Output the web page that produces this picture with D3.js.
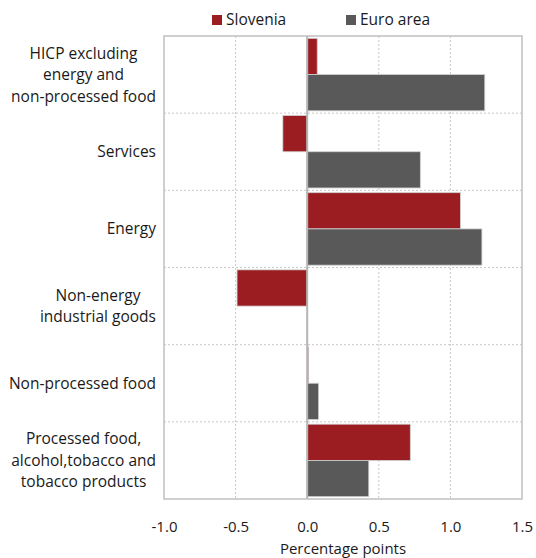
<!DOCTYPE html>
<html>
<head>
<meta charset="utf-8">
<script src="https://cdn.jsdelivr.net/npm/d3@7"></script>
<style>
  body { margin: 0; background: #fff; }
  text { font-family: "Open Sans", sans-serif; fill: #1a1a1a; }
</style>
</head>
<body>
<div id="chart"></div>
<script>
// categories, top to bottom
var categories = [
  ["HICP excluding", "energy and", "non-processed food"],
  ["Services"],
  ["Energy"],
  ["Non-energy", "industrial goods"],
  ["Non-processed food"],
  ["Processed food,", "alcohol,tobacco and", "tobacco products"]
];
var seriesNames = ["Slovenia", "Euro area"];
var slovenia = [0.07, -0.17, 1.07, -0.49, 0.01, 0.72];
var euroArea = [1.24, 0.79, 1.22, 0.0, 0.08, 0.43];
var xTicks = [-1.0, -0.5, 0.0, 0.5, 1.0, 1.5];
var colors = ["#9b1c21", "#595959"];

var svgWidth = 536;
var svgHeight = 558;
var margin = { top: 36, right: 14, bottom: 59, left: 164 };
var width = svgWidth - margin.left - margin.right;
var height = svgHeight - margin.top - margin.bottom;

var svg = d3.select("#chart")
  .append("svg")
  .attr("width", svgWidth)
  .attr("height", svgHeight);

var chartGroup = svg.append("g")
  .attr("transform", `translate(${margin.left}, ${margin.top})`);

var data = categories.map(function(c, i) {
  return { key: i, lines: c, values: [slovenia[i], euroArea[i]] };
});

var x = d3.scaleLinear().domain([-1.0, 1.5]).range([0, width]);
var y = d3.scaleBand().domain(d3.range(categories.length)).range([0, height]).padding(0);
var ySub = d3.scaleBand().domain([0, 1]).range([0, y.bandwidth()]).paddingOuter(0.065).paddingInner(0);

// vertical dotted gridlines
chartGroup.selectAll(".vgrid")
  .data(xTicks.slice(1, -1))
  .enter()
  .append("line")
  .attr("x1", d => x(d))
  .attr("x2", d => x(d))
  .attr("y1", 0)
  .attr("y2", height)
  .attr("stroke", "#c8c8c8")
  .attr("stroke-width", 1)
  .attr("stroke-dasharray", "2,2");

// horizontal dotted separators between categories
chartGroup.selectAll(".hgrid")
  .data(d3.range(1, categories.length))
  .enter()
  .append("line")
  .attr("x1", 0)
  .attr("x2", width)
  .attr("y1", d => y(d))
  .attr("y2", d => y(d))
  .attr("stroke", "#c8c8c8")
  .attr("stroke-width", 1)
  .attr("stroke-dasharray", "2,2");

// bars
var groups = chartGroup.selectAll(".cat")
  .data(data)
  .enter()
  .append("g")
  .attr("transform", d => `translate(0, ${y(d.key)})`);

groups.selectAll("rect")
  .data(d => d.values.map((v, j) => ({ v: v, j: j })))
  .enter()
  .append("rect")
  .attr("x", d => x(Math.min(0, d.v)))
  .attr("y", d => ySub(d.j))
  .attr("width", d => Math.abs(x(d.v) - x(0)))
  .attr("height", ySub.bandwidth())
  .attr("fill", d => colors[d.j])
  .attr("stroke", d => d.v === 0 ? "none" : "#d0d0d0")
  .attr("stroke-width", 0.8);

// zero line
chartGroup.append("line")
  .attr("x1", x(0))
  .attr("x2", x(0))
  .attr("y1", 0)
  .attr("y2", height)
  .attr("stroke", "#b5b5b5")
  .attr("stroke-width", 2);

// plot border
chartGroup.append("rect")
  .attr("x", 0)
  .attr("y", 0)
  .attr("width", width)
  .attr("height", height)
  .attr("fill", "none")
  .attr("stroke", "#c0c0c0")
  .attr("stroke-width", 1.5);

// x axis tick labels (plain hyphen for negatives, as in the original)
var xAxis = chartGroup.append("g")
  .attr("transform", `translate(0, ${height})`)
  .call(d3.axisBottom(x).tickValues(xTicks).tickSize(0).tickPadding(22)
    .tickFormat(d => d3.format(".1f")(d).replace("\u2212", "-")));
xAxis.select(".domain").remove();
xAxis.selectAll("text")
  .style("font-family", "'Open Sans', sans-serif")
  .style("font-size", "15px")
  .attr("fill", "#1a1a1a");

chartGroup.append("text")
  .attr("x", width / 2)
  .attr("y", height + 55)
  .attr("text-anchor", "middle")
  .style("font-size", "15px")
  .text("Percentage points");

// category labels: block right aligned, lines centred within block
var lineH = 21.5;
var labelRight = -8;
data.forEach(function(d) {
  var g = chartGroup.append("g");
  var n = d.lines.length;
  var cy = y(d.key) + y.bandwidth() / 2;
  var texts = d.lines.map(function(line, k) {
    return g.append("text")
      .attr("y", cy + (k - (n - 1) / 2) * lineH)
      .attr("dy", "0.35em")
      .attr("text-anchor", "middle")
      .style("font-size", "15.5px")
      .text(line);
  });
  var maxW = d3.max(texts, t => t.node().getComputedTextLength());
  texts.forEach(t => t.attr("x", labelRight - maxW / 2));
});

// legend
var legend = svg.append("g");
var legendX = [212, 346];
seriesNames.forEach(function(name, i) {
  legend.append("rect")
    .attr("x", legendX[i])
    .attr("y", 15)
    .attr("width", 10)
    .attr("height", 10)
    .attr("fill", colors[i]);
  legend.append("text")
    .attr("x", legendX[i] + 14)
    .attr("y", 20)
    .attr("dy", "0.35em")
    .style("font-size", "15.5px")
    .text(name);
});
</script>
</body>
</html>
